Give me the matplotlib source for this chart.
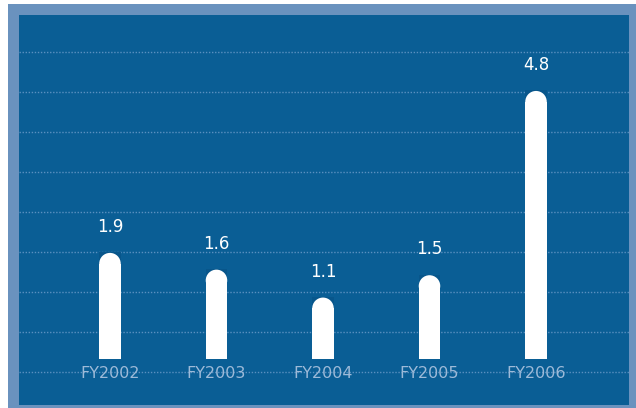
import matplotlib
matplotlib.use("Agg")
import matplotlib.pyplot as plt
from matplotlib.patches import Rectangle, Ellipse
import numpy as np

years = ["FY2002", "FY2003", "FY2004", "FY2005", "FY2006"]
values = [1.9, 1.6, 1.1, 1.5, 4.8]

PANEL = "#0a5e95"
FRAME = "#6a92be"
CAP_BG = "#08568b"
GRID = "#5a90c0"
TICK = "#9dbad8"

fig = plt.figure(figsize=(6.36, 4.08), dpi=100, facecolor="white")
W, H = 636, 408

# light-blue frame behind the chart panel
fig.patches.append(Rectangle((8 / W, 0), (W - 8) / W, (H - 4) / H,
                             transform=fig.transFigure, facecolor=FRAME,
                             edgecolor="none", zorder=-10))

ax = fig.add_axes([19 / W, 3 / H, 610 / W, 390 / H])
ax.set_zorder(1)
ax.set_facecolor(PANEL)
for s in ax.spines.values():
    s.set_visible(False)

x = np.arange(len(years))
ax.set_xlim(-0.854, 4.873)
ax.set_ylim(-0.824, 6.16)

# dotted horizontal guides
for gy in np.linspace(0.085, 0.905, 9):
    ax.plot([0, 1], [gy, gy], color=GRID, lw=1.0, dashes=(1, 1.2),
            transform=ax.transAxes, zorder=1)

bar_w = 0.202
fig.canvas.draw()
# vertical radius (in data units) that gives a round cap in pixels
p0 = ax.transData.transform((0, 0))
p1 = ax.transData.transform((bar_w, 1))
px_per_x = p1[0] - p0[0]
px_per_y = p1[1] - p0[1]
ry = (px_per_x / 2) / px_per_y

ax.bar(x, [v - ry for v in values], width=bar_w, color="white",
       edgecolor="none", zorder=3)
for xi, v in zip(x, values):
    ax.add_patch(Rectangle((xi - bar_w / 2, v - ry), bar_w, ry * 1.05,
                           facecolor=CAP_BG, edgecolor="none", zorder=2))
    ax.add_patch(Ellipse((xi, v - ry), bar_w, 2 * ry, facecolor="white",
                         edgecolor="none", zorder=3))
    ax.annotate(f"{v:.1f}", (xi, v), xytext=(0, 15), textcoords="offset points",
                ha="center", va="baseline", color="white", fontsize=12,
                zorder=4)

ax.set_yticks([])
ax.set_xticks(x)
ax.set_xticklabels(years)
ax.tick_params(axis="x", length=0, pad=-28, labelcolor=TICK, labelsize=11.5)

fig.savefig("out.png", dpi=100, facecolor="white")
